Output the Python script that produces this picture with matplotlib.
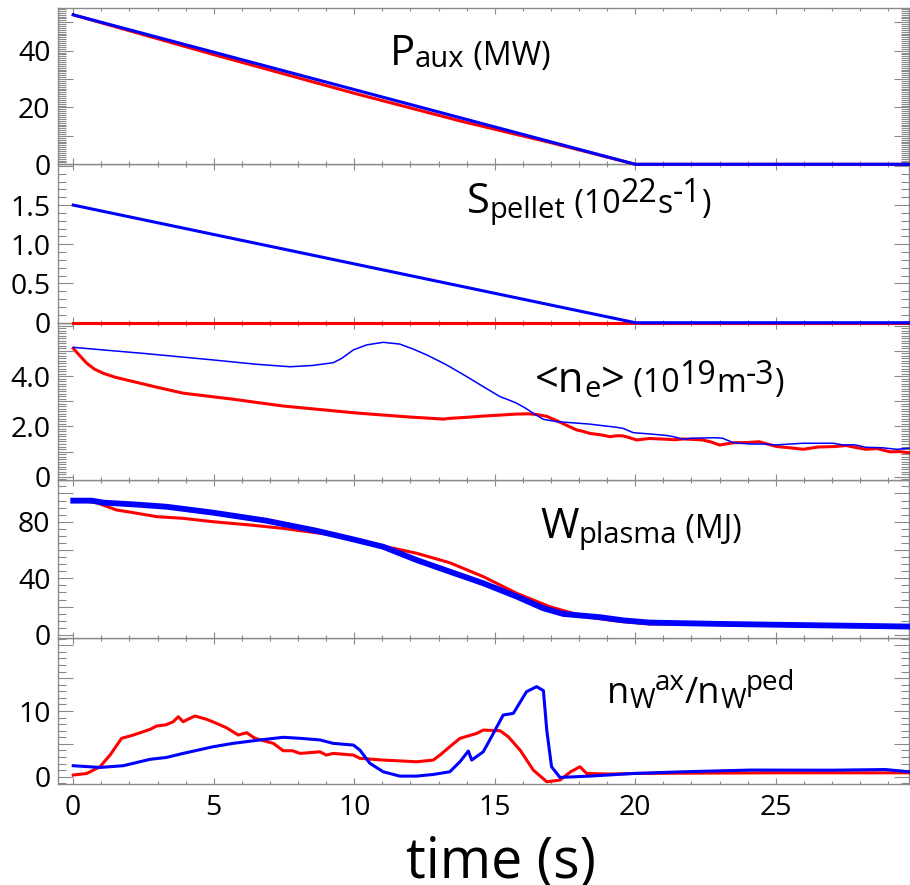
import numpy as np
import matplotlib
matplotlib.use('Agg')
import matplotlib.pyplot as plt
from matplotlib.ticker import MultipleLocator, FuncFormatter

plt.rcParams['font.family'] = ['Open Sans', 'DejaVu Sans']

RED = '#ff0000'
BLUE = '#0000ff'
GRAY = '#8a8a8a'

T_MIN, T_MAX = -0.56, 29.74

# auxiliary heating power (MW)
paux_red = [(0, 52.6), (5, 38.6), (10, 25.0), (13.75, 15.3), (17, 7.6), (20, 0), (29.74, 0)]
paux_blue = [(0, 52.6), (20, 0), (29.74, 0)]

# pellet fuelling rate (1e22 /s)
spel_red = [(0, 0), (29.74, 0)]
spel_blue = [(0, 1.5), (20, 0), (29.74, 0)]

# line averaged density (1e19 m^-3)
ne_red = [(0, 5.10), (0.2, 4.85), (0.48, 4.51), (0.75, 4.28), (1.07, 4.11), (1.5, 3.95),
          (2.14, 3.78), (3.0, 3.55), (3.91, 3.32), (4.8, 3.20), (5.69, 3.08), (6.6, 2.94),
          (7.47, 2.81), (8.4, 2.71), (9.25, 2.62), (10.1, 2.53), (11.03, 2.45), (12.0, 2.37),
          (12.6, 2.33), (13.17, 2.29), (13.4, 2.32), (14.0, 2.36), (14.59, 2.41), (15.2, 2.45),
          (15.78, 2.49), (16.2, 2.50), (16.5, 2.47), (16.85, 2.40), (17.2, 2.23), (17.6, 2.02),
          (17.91, 1.86), (18.15, 1.80), (18.39, 1.72), (18.8, 1.66), (19.1, 1.59), (19.35, 1.63),
          (19.57, 1.62), (19.8, 1.55), (20.05, 1.46), (20.5, 1.52), (21.1, 1.49), (21.4, 1.47),
          (21.7, 1.50), (22.1, 1.48), (22.4, 1.46), (22.7, 1.38), (23.0, 1.26), (23.5, 1.35),
          (24.0, 1.36), (24.4, 1.39), (24.7, 1.30), (25.03, 1.20), (25.5, 1.15), (25.98, 1.09),
          (26.5, 1.18), (27.1, 1.20), (27.5, 1.24), (27.9, 1.15), (28.2, 1.09), (28.6, 1.12),
          (29.06, 0.99), (29.4, 1.00), (29.74, 0.95)]
ne_blue = [(0, 5.14), (2.5, 4.90), (4.98, 4.64), (6.5, 4.47), (7.71, 4.37), (8.5, 4.42),
           (9.25, 4.53), (9.55, 4.70), (9.97, 5.04), (10.45, 5.24), (11.03, 5.34), (11.62, 5.27),
           (12.1, 5.07), (12.58, 4.84), (13.17, 4.51), (13.4, 4.37), (14.0, 3.98), (14.59, 3.58),
           (15.19, 3.18), (15.5, 3.05), (15.78, 2.92), (16.1, 2.72), (16.37, 2.52), (16.73, 2.28),
           (17.2, 2.19), (17.8, 2.14), (18.39, 2.09), (18.9, 2.02), (19.3, 1.97), (19.57, 1.92),
           (19.93, 1.75), (20.5, 1.70), (21.12, 1.64), (21.4, 1.58), (21.7, 1.49), (22.0, 1.53),
           (22.4, 1.54), (22.8, 1.55), (23.1, 1.53), (23.5, 1.35), (24.1, 1.30), (24.6, 1.30),
           (25.0, 1.26), (25.5, 1.30), (25.98, 1.33), (26.5, 1.33), (27.05, 1.33), (27.4, 1.26),
           (27.8, 1.27), (28.2, 1.17), (28.8, 1.15), (29.3, 1.09), (29.74, 1.13)]

# stored plasma energy (MJ)
wp_red = [(0, 95.6), (0.83, 93.4), (1.54, 88.3), (2.14, 86.4), (2.97, 83.6), (3.91, 82.4),
          (4.98, 80.0), (6.29, 77.7), (7.47, 75.3), (9.25, 70.6), (9.97, 67.5), (11.03, 62.8),
          (12.22, 57.7), (13.4, 51.0), (14.59, 41.2), (15.78, 29.4), (16.96, 19.9), (17.79, 15.2),
          (18.39, 12.4), (19.34, 9.8), (20.52, 7.7), (23.0, 7.6), (26.0, 7.0), (29.74, 6.4)]
wp_blue = [(0, 94.9), (0.66, 94.9), (1.07, 93.5), (2.2, 92.2), (3.32, 90.6), (4.98, 86.4),
           (6.88, 80.7), (8.66, 73.6), (9.97, 67.5), (11.03, 62.3), (12.22, 52.9), (13.4, 44.7),
           (14.59, 36.5), (15.78, 27.1), (16.73, 18.8), (17.44, 14.8), (18.74, 12.5), (19.6, 10.2),
           (20.52, 8.7), (22.9, 7.8), (25.3, 7.1), (27.5, 6.5), (29.74, 5.9)]

# tungsten peaking, axis / pedestal
nw_red = [(0, 0.26), (0.48, 0.5), (0.95, 1.52), (1.31, 3.3), (1.72, 5.84), (2.14, 6.35),
          (2.73, 7.2), (2.97, 7.72), (3.3, 7.9), (3.56, 8.37), (3.74, 9.13), (3.91, 8.37),
          (4.15, 8.89), (4.33, 9.24), (4.75, 8.73), (5.1, 8.12), (5.45, 7.46), (5.87, 6.35),
          (6.17, 6.7), (6.47, 5.84), (7.12, 5.08), (7.47, 3.96), (7.8, 3.96), (8.07, 3.55),
          (8.78, 3.8), (9.0, 3.3), (9.25, 3.55), (9.97, 3.3), (10.2, 2.8), (11.03, 2.54),
          (12.22, 2.28), (12.81, 2.54), (13.05, 3.3), (13.4, 4.57), (13.76, 5.84), (14.36, 6.6),
          (14.59, 7.1), (15.19, 7.0), (15.48, 6.09), (15.9, 4.06), (16.37, 1.02), (16.85, -0.76),
          (17.32, -0.5), (17.7, 0.76), (18.03, 1.52), (18.27, 0.5), (19.1, 0.41), (20.0, 0.5),
          (22.0, 0.55), (25.0, 0.6), (28.0, 0.6), (29.74, 0.6)]
nw_blue = [(0, 1.68), (0.95, 1.42), (1.78, 1.68), (2.73, 2.65), (3.32, 2.94), (3.91, 3.55),
           (4.98, 4.57), (5.69, 5.08), (6.64, 5.6), (7.47, 6.0), (8.1, 5.84), (8.78, 5.6),
           (9.25, 5.08), (9.97, 4.82), (10.2, 4.06), (10.56, 2.03), (11.03, 0.76), (11.62, 0.1),
           (12.22, 0.1), (12.81, 0.35), (13.4, 0.76), (13.76, 2.28), (14.06, 3.91), (14.18, 2.54),
           (14.59, 3.8), (14.95, 6.6), (15.3, 9.39), (15.66, 9.64), (16.13, 12.94), (16.49, 13.7),
           (16.73, 13.1), (16.85, 7.1), (17.02, 1.52), (17.32, -0.1), (18.39, 0.1), (19.93, 0.5),
           (21.7, 0.76), (24.1, 1.02), (27.0, 1.0), (28.9, 1.1), (29.74, 0.76)]

# panel frames in pixels (top edges / bottom edges), figure is 910 x 885
W_PX, H_PX = 910, 885
LEFT, RIGHT = 57.5, 909
edges = [8, 164.3, 322.7, 480, 638, 784]

fig = plt.figure(figsize=(9.1, 8.85), dpi=100)


def px(x, y):
    return x / W_PX, 1 - y / H_PX


def style(ax, ylim, major, minor, labels, bottom=False):
    ax.set_xlim(T_MIN, T_MAX)
    ax.set_ylim(*ylim)
    ax.xaxis.set_major_locator(MultipleLocator(5))
    ax.xaxis.set_minor_locator(MultipleLocator(1))
    ax.yaxis.set_major_locator(MultipleLocator(major))
    ax.yaxis.set_minor_locator(MultipleLocator(minor))
    ax.yaxis.set_major_formatter(FuncFormatter(lambda v, pos: labels.get(round(v, 3), '')))
    ax.xaxis.set_major_formatter(FuncFormatter(lambda v, pos: '%d' % round(v)))
    for s in ax.spines.values():
        s.set_color(GRAY)
        s.set_linewidth(1)
    ax.tick_params(which='both', direction='in', color=GRAY, width=0.8,
                   top=True, right=True, labelsize=20.5)
    ax.tick_params(axis='y', which='major', length=11, pad=5)
    ax.tick_params(axis='y', which='minor', length=5.5)
    ax.tick_params(axis='x', which='major', length=4, pad=7, labelbottom=bottom)
    ax.tick_params(axis='x', which='minor', length=2)


def label(ax, x, y, pieces):
    # pieces: (text, fontsize, shift from the baseline in points), laid out left to right
    xf, yf = px(x, y)
    prev = None
    for txt, size, rise in pieces:
        if prev is None:
            prev = ax.annotate(txt, xy=(xf, yf), xycoords='figure fraction',
                               fontsize=size, va='baseline', ha='left',
                               annotation_clip=False)
        else:
            prev = ax.annotate(txt, xy=(1, yf), xycoords=(prev, 'figure fraction'),
                               xytext=(0, rise), textcoords='offset points',
                               fontsize=size, va='baseline', ha='left',
                               annotation_clip=False)


def line(ax, pts, color, lw):
    t, v = np.array(pts).T
    # drawn above the frame so traces sitting on zero keep their full width
    ax.plot(t, v, color=color, lw=lw, solid_joinstyle='round', clip_on=False, zorder=3)


axes = []
for i in range(5):
    top, bot = edges[i], edges[i + 1]
    x0, y0 = px(LEFT, bot)
    ax = fig.add_axes([x0, y0, (RIGHT - LEFT) / W_PX, (bot - top) / H_PX])
    ax.set_zorder(10 - i)
    axes.append(ax)
ax1, ax2, ax3, ax4, ax5 = axes

style(ax1, (0, 55), 10, 10 / 15, {0: '0', 20: '20', 40: '40'})
style(ax2, (0, 2.02), 0.5, 0.1, {0: '0', 0.5: '0.5', 1.0: '1.0', 1.5: '1.5'})
style(ax3, (-0.13, 6.12), 1, 0.1, {0: '0', 2: '2.0', 4: '4.0'})
style(ax4, (-2.2, 109.5), 20, 5, {0: '0', 40: '40', 80: '80'})
style(ax5, (-1.1, 21.1), 5, 1, {0: '0', 10: '10'}, bottom=True)

line(ax1, paux_red, RED, 2.2)
line(ax1, paux_blue, BLUE, 2.2)
line(ax2, spel_red, RED, 2.2)
line(ax2, spel_blue, BLUE, 2.2)
line(ax3, ne_red, RED, 2.2)
line(ax3, ne_blue, BLUE, 1.1)
line(ax4, wp_red, RED, 2.2)
line(ax4, wp_blue, BLUE, 4.2)
line(ax5, nw_red, RED, 2.2)
line(ax5, nw_blue, BLUE, 2.2)

label(ax1, 390, 65, [('P', 30, 0), ('aux', 21, -1.5), (' (MW)', 23, 0)])
label(ax2, 467, 213, [('S', 30, 0), ('pellet', 21, -3.5), (' (10', 23, 0),
                      ('22', 23, 8), ('s', 23, 0), ('-1', 23, 8), (')', 23, 0)])
label(ax3, 535, 392, [('<n', 30, 0), ('e', 21, -3.5), ('>', 30, 0), (' (10', 23, 0),
                      ('19', 23, 6), ('m', 23, 0), ('-3', 23, 6), (')', 23, 0)])
label(ax4, 540, 538, [('W', 30, 0), ('plasma', 21, -3.5), (' (MJ)', 23, 0)])
label(ax5, 607, 703, [('n', 26, 0), ('W', 20, -3.5), ('ax', 20, 9.5), ('/n', 26, 0),
                      ('W', 20, -3.5), ('ped', 20, 9.5)])

fig.text(*px(501, 877), 'time (s)', fontsize=40, ha='center', va='baseline')

fig.savefig('out.png', dpi=100)
